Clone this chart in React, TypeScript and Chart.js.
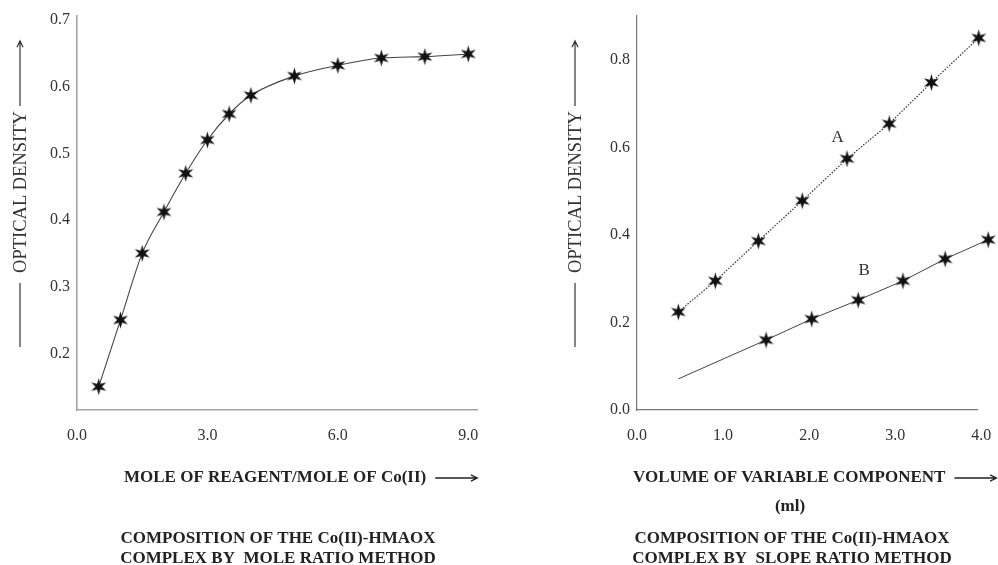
import { useEffect, useRef } from "react";
import { Chart, registerables } from "chart.js";

Chart.register(...registerables);

// Mole ratio method: mole of reagent / mole of Co(II) vs optical density
const moleRatio = [0.5, 1, 1.5, 2, 2.5, 3, 3.5, 4, 5, 6, 7, 8, 9];
const odMoleRatio = [0.15, 0.25, 0.35, 0.412, 0.47, 0.52, 0.559, 0.587, 0.616, 0.632, 0.643, 0.645, 0.649];
const moleTicks = [0, 3, 6, 9];
const odMoleTicks = [0.2, 0.3, 0.4, 0.5, 0.6, 0.7];

// Slope ratio method: volume of variable component (ml) vs optical density
const volA = [0.48, 0.91, 1.41, 1.92, 2.44, 2.93, 3.42, 3.97];
const odA = [0.224, 0.295, 0.386, 0.478, 0.574, 0.654, 0.748, 0.85];
const volB = [0.48, 1.5, 2.03, 2.57, 3.09, 3.58, 4.08];
const odB = [0.071, 0.16, 0.208, 0.251, 0.295, 0.345, 0.389];
const volTicks = [0, 1, 2, 3, 4];
const odSlopeTicks = [0, 0.2, 0.4, 0.6, 0.8];

// Curve labels placed in data coordinates
const curveLabels = [
  { text: "A", x: 2.33, y: 0.622 },
  { text: "B", x: 2.64, y: 0.319 },
];

const SERIF = "'Liberation Serif', 'Times New Roman', serif";
const W = 998;
const H = 565;

function makeStar(): HTMLCanvasElement {
  const c = document.createElement("canvas");
  c.width = 19;
  c.height = 19;
  const g = c.getContext("2d")!;
  const cx = 9.5, cy = 9.5, ro = 8.6, ri = 3.3;
  g.beginPath();
  for (let i = 0; i < 12; i++) {
    const r = i % 2 === 0 ? ro : ri;
    const a = -Math.PI / 2 + (i * Math.PI) / 6;
    const px = cx + r * Math.cos(a);
    const py = cy + r * Math.sin(a);
    if (i === 0) g.moveTo(px, py);
    else g.lineTo(px, py);
  }
  g.closePath();
  g.fillStyle = "#111";
  g.fill();
  return c;
}

function arrow(ctx: CanvasRenderingContext2D, x1: number, y1: number, x2: number, y2: number) {
  const ang = Math.atan2(y2 - y1, x2 - x1);
  const head = 7;
  ctx.beginPath();
  ctx.moveTo(x1, y1);
  ctx.lineTo(x2, y2);
  ctx.moveTo(x2 - head * Math.cos(ang - 0.45), y2 - head * Math.sin(ang - 0.45));
  ctx.lineTo(x2, y2);
  ctx.lineTo(x2 - head * Math.cos(ang + 0.45), y2 - head * Math.sin(ang + 0.45));
  ctx.stroke();
}

function yTitle(ctx: CanvasRenderingContext2D, x: number, cy: number) {
  ctx.save();
  ctx.fillStyle = "#333";
  ctx.translate(x, cy);
  ctx.rotate(-Math.PI / 2);
  ctx.font = `18.5px ${SERIF}`;
  ctx.textAlign = "center";
  ctx.textBaseline = "middle";
  ctx.fillText("OPTICAL DENSITY", 0, 1);
  ctx.restore();
  ctx.save();
  ctx.strokeStyle = "#333";
  ctx.lineWidth = 1.2;
  ctx.beginPath();
  ctx.moveTo(x, 283);
  ctx.lineTo(x, 347);
  ctx.stroke();
  arrow(ctx, x, 106, x, 41);
  ctx.restore();
}

function xTitle(ctx: CanvasRenderingContext2D, text: string, left: number, y: number) {
  ctx.save();
  ctx.font = `bold 17px ${SERIF}`;
  ctx.fillStyle = "#222";
  ctx.textAlign = "left";
  ctx.textBaseline = "middle";
  ctx.fillText(text, left, y);
  const end = left + ctx.measureText(text).width;
  ctx.strokeStyle = "#222";
  ctx.lineWidth = 1.3;
  arrow(ctx, end + 9, y, end + 51, y);
  ctx.restore();
}

function centered(ctx: CanvasRenderingContext2D, text: string, cx: number, y: number) {
  ctx.save();
  ctx.font = `bold 17px ${SERIF}`;
  ctx.fillStyle = "#222";
  ctx.textAlign = "center";
  ctx.textBaseline = "middle";
  ctx.fillText(text, cx, y);
  ctx.restore();
}

const tickFont = { family: SERIF, size: 16 };
const fmt = (v: number | string) => Number(v).toFixed(1);

// Keep the plot area fixed regardless of how far edge tick labels overhang
const noOverhang = (s: any) => {
  s.paddingLeft = 0;
  s.paddingRight = 0;
  s.paddingTop = 0;
  s.paddingBottom = 0;
};

export default function App() {
  const leftRef = useRef<HTMLCanvasElement>(null);
  const rightRef = useRef<HTMLCanvasElement>(null);

  useEffect(() => {
    const star = makeStar();

    const left = new Chart(leftRef.current!, {
      type: "scatter",
      data: {
        datasets: [
          {
            data: moleRatio.map((x, i) => ({ x, y: odMoleRatio[i] })),
            showLine: true,
            borderColor: "#444",
            borderWidth: 1.1,
            cubicInterpolationMode: "monotone",
            pointStyle: star,
            pointRadius: 8,
            pointBorderWidth: 0,
          },
        ],
      },
      options: {
        responsive: false,
        animation: false,
        events: [],
        layout: { padding: { left: 0, top: 16, right: W - 477, bottom: 0 } },
        plugins: { legend: { display: false }, tooltip: { enabled: false } },
        scales: {
          x: {
            type: "linear",
            min: 0,
            max: 9.2,
            afterBuildTicks: (s: any) => {
              s.ticks = moleTicks.map((value) => ({ value }));
            },
            afterFit: (s: any) => {
              s.height = H - 410;
              noOverhang(s);
            },
            grid: { display: false, drawTicks: false },
            border: { display: true, color: "#a3a3a3", width: 1.6 },
            ticks: { padding: 16, font: tickFont, color: "#333", callback: fmt, maxRotation: 0, autoSkip: false },
          },
          y: {
            type: "linear",
            min: 0.115,
            max: 0.706,
            afterBuildTicks: (s: any) => {
              s.ticks = odMoleTicks.map((value) => ({ value }));
            },
            afterFit: (s: any) => {
              s.width = 77;
              noOverhang(s);
            },
            grid: { display: false, drawTicks: false },
            border: { display: true, color: "#a3a3a3", width: 1.6 },
            ticks: { padding: 7, font: tickFont, color: "#333", callback: fmt, autoSkip: false },
          },
        },
      },
      plugins: [
        {
          id: "moleRatioNotes",
          afterDraw: (chart: any) => {
            const ctx = chart.ctx as CanvasRenderingContext2D;
            yTitle(ctx, 20, 192);
            xTitle(ctx, "MOLE OF REAGENT/MOLE OF Co(II)", 124, 478);
            centered(ctx, "COMPOSITION OF THE Co(II)-HMAOX", 278, 539);
            centered(ctx, "COMPLEX BY  MOLE RATIO METHOD", 278, 559);
          },
        },
      ],
    } as any);

    const right = new Chart(rightRef.current!, {
      type: "scatter",
      data: {
        datasets: [
          {
            data: volA.map((x, i) => ({ x, y: odA[i] })),
            showLine: true,
            borderColor: "#333",
            borderWidth: 1.2,
            borderDash: [1.5, 1.5],
            pointStyle: star,
            pointRadius: 14,
            pointBorderWidth: 0,
            clip: false,
          },
          {
            data: volB.map((x, i) => ({ x, y: odB[i] })),
            showLine: true,
            borderColor: "#444",
            borderWidth: 1,
            pointStyle: star,
            pointRadius: volB.map((_, i) => (i === 0 ? 0 : 14)),
            pointBorderWidth: 0,
            clip: false,
          },
        ],
      },
      options: {
        responsive: false,
        animation: false,
        events: [],
        layout: { padding: { left: 637 - 60, top: 16, right: W - 977, bottom: 0 } },
        plugins: { legend: { display: false }, tooltip: { enabled: false } },
        scales: {
          x: {
            type: "linear",
            min: 0,
            max: 3.95,
            afterBuildTicks: (s: any) => {
              s.ticks = volTicks.map((value) => ({ value }));
            },
            afterFit: (s: any) => {
              s.height = H - 410;
              noOverhang(s);
            },
            grid: { display: false, drawTicks: false },
            border: { display: true, color: "#777", width: 1.2 },
            ticks: { padding: 16, font: tickFont, color: "#333", callback: fmt, maxRotation: 0, autoSkip: false },
          },
          y: {
            type: "linear",
            min: 0,
            max: 0.9,
            afterBuildTicks: (s: any) => {
              s.ticks = odSlopeTicks.map((value) => ({ value }));
            },
            afterFit: (s: any) => {
              s.width = 60;
              noOverhang(s);
            },
            grid: { display: false, drawTicks: false },
            border: { display: true, color: "#777", width: 1.2 },
            ticks: { padding: 7, font: tickFont, color: "#333", callback: fmt, autoSkip: false },
          },
        },
      },
      plugins: [
        {
          id: "slopeRatioNotes",
          afterDraw: (chart: any) => {
            const ctx = chart.ctx as CanvasRenderingContext2D;
            const xs = chart.scales.x;
            const ys = chart.scales.y;
            ctx.save();
            ctx.font = `17px ${SERIF}`;
            ctx.fillStyle = "#333";
            ctx.textAlign = "center";
            ctx.textBaseline = "middle";
            for (const l of curveLabels) {
              ctx.fillText(l.text, xs.getPixelForValue(l.x), ys.getPixelForValue(l.y));
            }
            ctx.restore();
            yTitle(ctx, 575, 192);
            xTitle(ctx, "VOLUME OF VARIABLE COMPONENT", 633, 478);
            centered(ctx, "(ml)", 790, 507);
            centered(ctx, "COMPOSITION OF THE Co(II)-HMAOX", 792, 539);
            centered(ctx, "COMPLEX BY  SLOPE RATIO METHOD", 792, 559);
          },
        },
      ],
    } as any);

    return () => {
      left.destroy();
      right.destroy();
    };
  }, []);

  const canvasStyle: React.CSSProperties = { position: "absolute", left: 0, top: 0 };

  return (
    <div style={{ position: "fixed", left: 0, top: 0, width: W, height: H, background: "#fff" }}>
      <canvas ref={leftRef} width={W} height={H} style={canvasStyle} />
      <canvas ref={rightRef} width={W} height={H} style={canvasStyle} />
    </div>
  );
}
